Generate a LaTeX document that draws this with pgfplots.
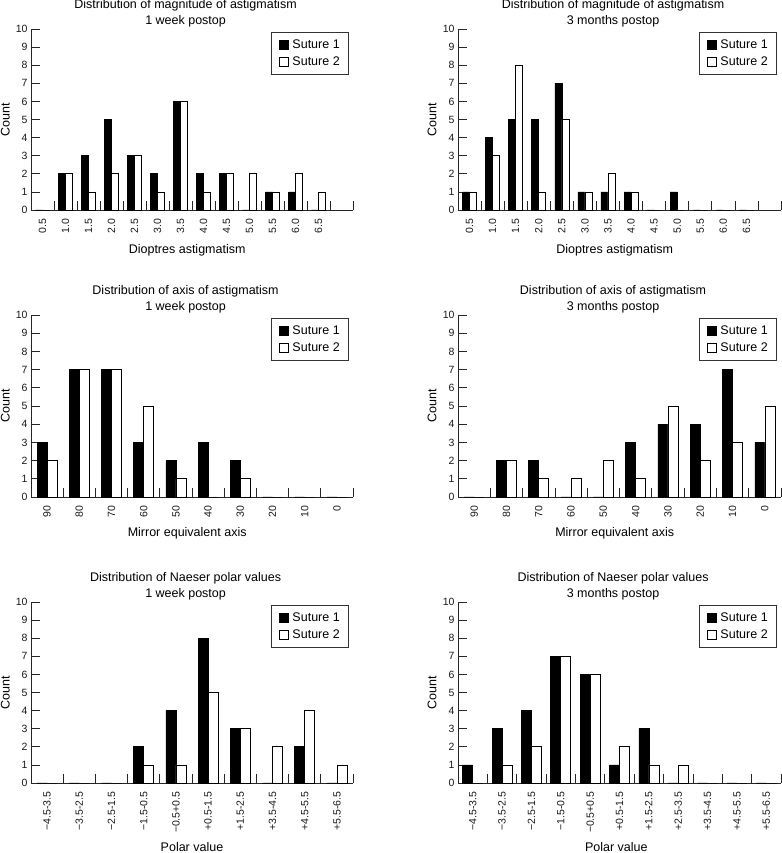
\documentclass[border=0pt]{standalone}
\usepackage{pgfplots}
\pgfplotsset{compat=1.18}
\usepackage{fontspec}
\setmainfont{Liberation Sans}
\newcommand{\bigf}{\fontsize{12.5}{16}\selectfont}
\newcommand{\smallf}{\fontsize{10.5}{12}\selectfont}
\pgfplotsset{
  sq legend/.style={legend image code/.code={\draw[##1] (0pt,-4.5pt) rectangle (9pt,4.5pt);}},
  s1/.style={ybar, fill=black, draw=black, line width=0.6pt, sq legend},
  s2/.style={ybar, fill=white, draw=black, line width=0.6pt, sq legend},
  panel/.style={
    scale only axis,
    axis lines=left,
    axis line style={-, line width=0.8pt, black!85},
    ymin=0, ymax=10, ytick={0,...,10},
    tick align=inside,
    major tick length=9pt,
    every tick/.style={line width=0.7pt, black!85},
    tick label style={font=\smallf, black!90},
    /pgf/number format/assume math mode=true,
    xticklabel={\relax},
    extra x tick style={major tick length=0pt, tick label style={yshift=-5pt, rotate=90, anchor=east}},
    every axis title/.style={at={(axis description cs:0.48,1.088)}, anchor=center, align=center, inner sep=0pt, font=\bigf},
    every axis y label/.style={at={(axis description cs:-0.08,0.5)}, rotate=90, anchor=center, inner sep=0pt, font=\bigf},
    every axis x label/.style={anchor=center, inner sep=0pt, font=\bigf},
    ylabel={Count},
    legend style={at={(axis description cs:0.988,0.983)}, anchor=north east, draw=black!80, line width=0.8pt, fill=white, font=\bigf, inner xsep=7pt, inner ysep=5pt, row sep=3pt,
      /tikz/every odd column/.append style={column sep=2pt}},
    legend cell align=left,
    clip=false,
  },
  magpanel/.style={panel, width=322pt, height=181pt, xmin=-0.5, xmax=13.5,
    xtick={0.5,1.5,...,13.5},
    extra x ticks={0,...,12},
    extra x tick labels={0.5,1.0,1.5,2.0,2.5,3.0,3.5,4.0,4.5,5.0,5.5,6.0,6.5},
    xlabel={Dioptres astigmatism},
    xlabel style={at={(axis description cs:0.485,-0.22)}},
  },
  axpanel/.style={panel, width=322pt, height=182pt, xmin=-0.5, xmax=9.5,
    xtick={0.5,1.5,...,9.5},
    extra x ticks={0,...,9},
    extra x tick labels={90,80,70,60,50,40,30,20,10,0},
    xlabel={Mirror equivalent axis},
    xlabel style={at={(axis description cs:0.485,-0.2)}},
  },
}
\begin{document}
\begin{tikzpicture}
\path[use as bounding box] (0,0) rectangle (781pt,853pt);

% Panel 1
\begin{axis}[magpanel, at={(31pt,643pt)}, anchor=south west,
  title={Distribution of magnitude of astigmatism\\1 week postop}]
\addplot[s1, bar width=7pt, bar shift=-3.5pt] coordinates {(0,0)(1,2)(2,3)(3,5)(4,3)(5,2)(6,6)(7,2)(8,2)(9,0)(10,1)(11,1)(12,0)};
\addplot[s2, bar width=7pt, bar shift=3.5pt] coordinates {(0,0)(1,2)(2,1)(3,2)(4,3)(5,1)(6,6)(7,1)(8,2)(9,2)(10,1)(11,2)(12,1)};
\legend{Suture 1, Suture 2}
\end{axis}

% Panel 2
\begin{axis}[magpanel, width=323pt, at={(458pt,643pt)}, anchor=south west,
  title={Distribution of magnitude of astigmatism\\3 months postop}]
\addplot[s1, bar width=7pt, bar shift=-3.5pt] coordinates {(0,1)(1,4)(2,5)(3,5)(4,7)(5,1)(6,1)(7,1)(8,0)(9,1)(10,0)(11,0)(12,0)};
\addplot[s2, bar width=7pt, bar shift=3.5pt] coordinates {(0,1)(1,3)(2,8)(3,1)(4,5)(5,1)(6,2)(7,1)(8,0)(9,0)(10,0)(11,0)(12,0)};
\legend{Suture 1, Suture 2}
\end{axis}

% Panel 3
\begin{axis}[axpanel, at={(31pt,356pt)}, anchor=south west,
  title={Distribution of axis of astigmatism\\1 week postop}]
\addplot[s1, bar width=10pt, bar shift=-5pt] coordinates {(0,3)(1,7)(2,7)(3,3)(4,2)(5,3)(6,2)(7,0)(8,0)(9,0)};
\addplot[s2, bar width=10pt, bar shift=5pt] coordinates {(0,2)(1,7)(2,7)(3,5)(4,1)(5,0)(6,1)(7,0)(8,0)(9,0)};
\legend{Suture 1, Suture 2}
\end{axis}

% Panel 4
\begin{axis}[axpanel, width=323pt, at={(458pt,356pt)}, anchor=south west,
  title={Distribution of axis of astigmatism\\3 months postop}]
\addplot[s1, bar width=10pt, bar shift=-5pt] coordinates {(0,0)(1,2)(2,2)(3,0)(4,0)(5,3)(6,4)(7,4)(8,7)(9,3)};
\addplot[s2, bar width=10pt, bar shift=5pt] coordinates {(0,0)(1,2)(2,1)(3,1)(4,2)(5,1)(6,5)(7,2)(8,3)(9,5)};
\legend{Suture 1, Suture 2}
\end{axis}

% Panel 5
\begin{axis}[panel, width=322pt, height=181pt, at={(31pt,70pt)}, anchor=south west,
  xmin=-0.5, xmax=9.5, xtick={0.5,1.5,...,9.5},
  extra x ticks={0,...,9},
  extra x tick labels={−4.5-3.5,−3.5-2.5,−2.5-1.5,−1.5-0.5,−0.5+0.5,+0.5-1.5,+1.5-2.5,+3.5-4.5,+4.5-5.5,+5.5-6.5},
  xlabel={Polar value}, xlabel style={at={(axis description cs:0.5,-0.354)}},
  title={Distribution of Naeser polar values\\1 week postop}]
\addplot[s1, bar width=10pt, bar shift=-5pt] coordinates {(0,0)(1,0)(2,0)(3,2)(4,4)(5,8)(6,3)(7,0)(8,2)(9,0)};
\addplot[s2, bar width=10pt, bar shift=5pt] coordinates {(0,0)(1,0)(2,0)(3,1)(4,1)(5,5)(6,3)(7,2)(8,4)(9,1)};
\legend{Suture 1, Suture 2}
\end{axis}

% Panel 6
\begin{axis}[panel, width=323pt, height=181pt, at={(458pt,70pt)}, anchor=south west,
  xmin=-0.5, xmax=10.5, xtick={0.5,1.5,...,10.5},
  extra x ticks={0,...,10},
  extra x tick labels={−4.5-3.5,−3.5-2.5,−2.5-1.5,−1.5-0.5,−0.5+0.5,+0.5-1.5,+1.5-2.5,+2.5-3.5,+3.5-4.5,+4.5-5.5,+5.5-6.5},
  xlabel={Polar value}, xlabel style={at={(axis description cs:0.49,-0.354)}},
  title={Distribution of Naeser polar values\\3 months postop}]
\addplot[s1, bar width=10pt, bar shift=-5pt] coordinates {(0,1)(1,3)(2,4)(3,7)(4,6)(5,1)(6,3)(7,0)(8,0)(9,0)(10,0)};
\addplot[s2, bar width=10pt, bar shift=5pt] coordinates {(0,0)(1,1)(2,2)(3,7)(4,6)(5,2)(6,1)(7,1)(8,0)(9,0)(10,0)};
\legend{Suture 1, Suture 2}
\end{axis}
\end{tikzpicture}
\end{document}
